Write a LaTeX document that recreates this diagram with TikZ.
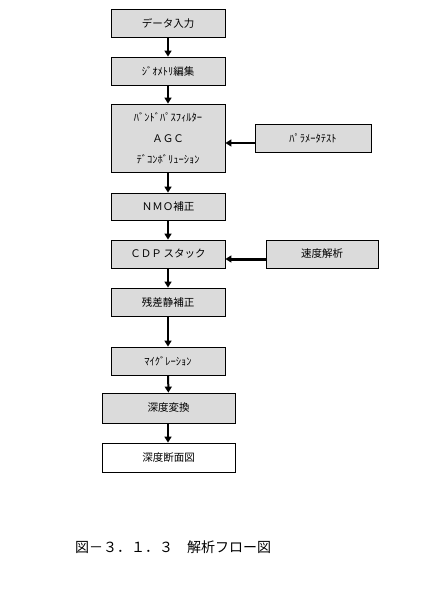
\documentclass[tikz,border=0pt]{standalone}
\usepackage{fontspec}
\setmainfont{Noto Sans CJK JP}
\usetikzlibrary{arrows.meta}
\begin{document}
\begin{tikzpicture}[x=1pt,y=-1pt,
  box/.style={draw=black,line width=0.8pt,fill=gray!28,minimum width=114pt,minimum height=28pt,inner sep=0pt,font=\fontsize{10.5}{12}\selectfont},
  wbox/.style={box,fill=white},
  arr/.style={line width=2pt,-{Triangle[length=6pt,width=7pt]}},
  harr/.style={line width=2pt,-{Triangle[length=6pt,width=7pt]}}]
\useasboundingbox (0,0) rectangle (437,593);
\node[box] (b1) at (168,23) {データ入力};
\node[box] (b2) at (168,71) {ｼﾞｵﾒﾄﾘ編集};
\node[box,minimum height=68pt,align=center,font=\fontsize{10.5}{21}\selectfont] (b3) at (168,138) {ﾊﾞﾝﾄﾞﾊﾟｽﾌｨﾙﾀｰ\\ＡＧＣ\\ﾃﾞｺﾝﾎﾞﾘｭｰｼｮﾝ};
\node[box,minimum width=116pt] (pt) at (313,138) {ﾊﾟﾗﾒｰﾀﾃｽﾄ};
\node[box,minimum height=27pt] (b4) at (168,206.5) {ＮＭＯ補正};
\node[box] (b5) at (168,254) {ＣＤＰ\,スタック};
\node[box,minimum width=112pt] (sp) at (322,254) {速度解析};
\node[box] (b6) at (168,302) {残差静補正};
\node[box] (b7) at (168,361) {ﾏｲｸﾞﾚｰｼｮﾝ};
\node[box,minimum width=133pt,minimum height=30pt] (b8) at (168.5,408) {深度変換};
\node[wbox,minimum width=133pt,minimum height=29pt] (b9) at (168.5,457.5) {深度断面図};
\node[anchor=west,inner sep=0pt,font=\fontsize{14}{16}\selectfont] (cap) at (75,547) {図－３．１．３　解析フロー図};
\draw[arr] (b1) -- (b2);
\draw[arr] (b2) -- (b3);
\draw[arr] (b3) -- (b4);
\draw[arr] (b4) -- (b5);
\draw[arr] (b5) -- (b6);
\draw[arr] (b6) -- (b7);
\draw[arr] (b7) -- (b8);
\draw[arr] (b8.south -| b7.south) -- (b9.north -| b7.south);
\draw[harr] ([yshift=-5pt]pt.west) -- ([yshift=-5pt]b3.east);
\draw[harr,line width=3pt] ([yshift=-5pt]sp.west) -- ([yshift=-5pt]b5.east);
\end{tikzpicture}
\end{document}
